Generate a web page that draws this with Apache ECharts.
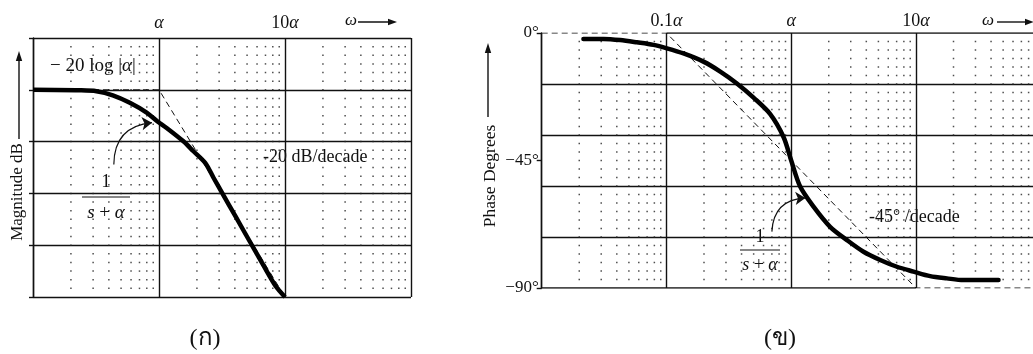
<!DOCTYPE html>
<html>
<head>
<meta charset="utf-8">
<script src="https://cdn.jsdelivr.net/npm/echarts@6/dist/echarts.min.js"></script>
<style>
  html, body { margin: 0; padding: 0; background: #fff; }
  #chart { width: 1033px; height: 354px; }
</style>
</head>
<body>
<div id="chart"></div>
<script>
// Magnitude of 1/(s+α): frequency in multiples of α, gain in dB relative to −20log|α|
const magFreq = [0.1, 0.235, 0.319, 0.43, 0.587, 0.798, 0.98, 1.15, 1.562, 1.877, 2.326, 2.708, 3.16, 4.03, 5.31, 6.78, 8.4, 10];
const magGain = [0, -0.05, -0.14, -0.53, -1.25, -2.2, -3.08, -3.68, -4.97, -5.93, -7.05, -8.49, -9.93, -12.18, -14.74, -16.99, -18.91, -20];
// Straight-line magnitude approximation (−20 dB/decade above α)
const magAsymFreq = [0.1, 1, 10];
const magAsymGain = [0, 0, -20];

// Phase of 1/(s+α) in degrees
const phaseFreq = [0.0216, 0.0313, 0.0426, 0.058, 0.0787, 0.1008, 0.137, 0.198, 0.27, 0.367, 0.499, 0.679, 0.868, 1.0, 1.18, 1.51, 2.05, 2.8, 3.8, 5.17, 7.04, 9.56, 13.0, 17.7, 24.0, 32.7, 45.9];
const phaseDeg = [-2.1, -2.1, -2.5, -3.3, -4.2, -5.4, -7.2, -10.1, -13.6, -17.8, -22.8, -28.6, -36.7, -45, -54.2, -61.3, -68.4, -73.1, -77.2, -80.1, -82.5, -84.2, -85.8, -86.6, -87.2, -87.2, -87.2];
// Straight-line phase approximation (−45°/decade from 0.1α to 10α)
const phaseAsymFreq = [0.01, 0.1, 10, 100];
const phaseAsymDeg = [0, 0, -90, -90];

// Axis ranges and ticks
const magFreqRange = [0.1, 100];
const magGainRange = [-20, 5];
const magGainStep = 5;
const magGainMinorSteps = 6;
const phaseFreqRange = [0.01, 100];
const phaseDegRange = [-90, 0];
const phaseDegStep = 18;
const phaseDegMinor = 3;
const phaseLabelStep = 45;
const minorMultiples = [2, 3, 4, 5, 6, 7, 8, 9];
const magTopLabels = { '0': '{a|α}', '1': '{n|10}{a|α}' };
const phaseTopLabels = { '-1': '{n|0.1}{a|α}', '0': '{a|α}', '1': '{n|10}{a|α}' };
const phaseSideLabels = { '0': '0°', '-45': '−45°', '-90': '−90°' };

// Annotation arrows (start → end, in data units)
const magArrow = [[0.438, -7.21], [0.88, -3.17]];
const phaseArrow = [[0.70, -70.1], [1.30, -58.2]];

const pair = (xs, ys) => xs.map((x, i) => [x, ys[i]]);

// dotted background grid: a dot at each log minor column × linear minor row
function dotGrid(xRange, yMin, yMax, yStep) {
  const pts = [];
  for (let d = xRange[0]; d < xRange[1] * 0.999; d *= 10) {
    for (const m of minorMultiples) {
      const x = +(d * m).toPrecision(6);
      for (let y = yMin + yStep; y < yMax - 1e-6; y += yStep) pts.push([x, +y.toFixed(4)]);
    }
  }
  return pts;
}

const SERIF = '"Liberation Serif", "Times New Roman", serif';
const INK = '#111';
const gridLine = { color: INK, width: 1.4 };
const richTop = {
  n: { fontFamily: SERIF, fontSize: 18, color: INK },
  a: { fontFamily: SERIF, fontSize: 18, fontStyle: 'italic', color: INK }
};
const decadeKey = v => String(Math.round(Math.log10(v)));

const chart = echarts.init(document.getElementById('chart'), null, { renderer: 'canvas' });

const txt = (x, y, text, opts, extra) => Object.assign({
  type: 'text', x: x, y: y, silent: true,
  style: Object.assign({
    text: text, fontFamily: SERIF, fontSize: 18, fill: INK,
    align: 'left', verticalAlign: 'middle'
  }, opts || {})
}, extra || {});

const italicRich = size => ({ a: { fontFamily: SERIF, fontSize: size, fontStyle: 'italic', fill: INK } });

const fraction = (cx, yNum, yBar, yDen, half, size) => ({
  type: 'group', silent: true,
  children: [
    txt(cx, yNum, '1', { align: 'center', fontSize: size }),
    { type: 'line', shape: { x1: cx - half, y1: yBar, x2: cx + half, y2: yBar }, style: { stroke: INK, lineWidth: 1.1 } },
    txt(cx, yDen, '{a|s} + {a|α}', { align: 'center', fontSize: size, rich: italicRich(size) })
  ]
});

const hArrow = (x1, x2, y) => ({
  type: 'group', silent: true,
  children: [
    { type: 'line', shape: { x1: x1, y1: y, x2: x2 - 6, y2: y }, style: { stroke: INK, lineWidth: 1.4 } },
    { type: 'polygon', shape: { points: [[x2, y], [x2 - 9, y - 3.2], [x2 - 9, y + 3.2]] }, style: { fill: INK } }
  ]
});
const vArrow = (x, y1, y2) => ({
  type: 'group', silent: true,
  children: [
    { type: 'line', shape: { x1: x, y1: y1, x2: x, y2: y2 + 6 }, style: { stroke: INK, lineWidth: 1.4 } },
    { type: 'polygon', shape: { points: [[x, y2], [x - 3.2, y2 + 10], [x + 3.2, y2 + 10]] }, style: { fill: INK } }
  ]
});

// curved pointer from the transfer-function label to the curve
const pointer = (xi, yi, a) => ({
  type: 'lines', coordinateSystem: 'cartesian2d', xAxisIndex: xi, yAxisIndex: yi,
  silent: true, z: 5,
  symbol: ['none', 'arrow'], symbolSize: [7, 10],
  lineStyle: { color: INK, width: 1.2, opacity: 1, curveness: 0.45 },
  data: [{ coords: a }]
});

chart.setOption({
  animation: false,
  backgroundColor: '#fff',
  grid: [
    { left: 33, top: 38, width: 378, height: 259, outerBoundsMode: 'none', containLabel: false },
    { left: 541.7, top: 33, width: 499, height: 255, outerBoundsMode: 'none', containLabel: false }
  ],
  xAxis: [
    {
      type: 'log', gridIndex: 0, logBase: 10, position: 'top',
      min: magFreqRange[0], max: magFreqRange[1],
      axisLine: { show: false }, axisTick: { show: false },
      axisLabel: { margin: 6, formatter: v => magTopLabels[decadeKey(v)] || '', rich: richTop },
      splitLine: { show: true, lineStyle: gridLine }
    },
    {
      type: 'log', gridIndex: 1, logBase: 10, position: 'top',
      min: phaseFreqRange[0], max: phaseFreqRange[1],
      axisLine: { show: false }, axisTick: { show: false },
      axisLabel: { margin: 3, formatter: v => phaseTopLabels[decadeKey(v)] || '', rich: richTop },
      splitLine: { show: true, lineStyle: gridLine }
    }
  ],
  yAxis: [
    {
      type: 'value', gridIndex: 0, position: 'left',
      min: magGainRange[0], max: magGainRange[1], interval: magGainStep,
      axisLine: { show: true, lineStyle: gridLine },
      axisTick: { show: true, length: 4, lineStyle: gridLine },
      axisLabel: { show: false },
      splitLine: { show: true, lineStyle: gridLine }
    },
    {
      type: 'value', gridIndex: 1, position: 'left',
      min: phaseDegRange[0], max: phaseDegRange[1], interval: phaseDegStep,
      axisLine: { show: true, lineStyle: gridLine },
      axisTick: { show: false },
      axisLabel: { show: false },
      splitLine: { show: true, showMinLine: false, showMaxLine: false, lineStyle: gridLine }
    },
    {
      type: 'value', gridIndex: 1, position: 'left', offset: 0,
      min: phaseDegRange[0], max: phaseDegRange[1], interval: phaseLabelStep,
      axisLine: { show: false },
      axisTick: { show: true, length: 5, lineStyle: gridLine },
      axisLabel: {
        margin: 3, fontFamily: SERIF, fontSize: 17, color: INK,
        formatter: v => phaseSideLabels[String(Math.round(v))] || ''
      },
      splitLine: { show: false }
    }
  ],
  series: [
    // --- magnitude panel ---
    {
      type: 'scatter', xAxisIndex: 0, yAxisIndex: 0, silent: true,
      symbol: 'rect', symbolSize: 1.5, itemStyle: { color: '#222' },
      data: dotGrid(magFreqRange, magGainRange[0], magGainRange[1], magGainStep / magGainMinorSteps)
    },
    {
      type: 'line', xAxisIndex: 0, yAxisIndex: 0, silent: true, symbol: 'none',
      lineStyle: { color: INK, width: 1, type: [6, 4] },
      data: pair(magAsymFreq, magAsymGain)
    },
    {
      type: 'line', xAxisIndex: 0, yAxisIndex: 0, silent: true, symbol: 'none', smooth: 0.3,
      lineStyle: { color: '#000', width: 4.5, cap: 'butt', join: 'round' },
      data: pair(magFreq, magGain)
    },
    pointer(0, 0, magArrow),
    // --- phase panel ---
    {
      type: 'scatter', xAxisIndex: 1, yAxisIndex: 1, silent: true,
      symbol: 'rect', symbolSize: 1.5, itemStyle: { color: '#222' },
      data: dotGrid(phaseFreqRange, phaseDegRange[0], phaseDegRange[1], phaseDegMinor)
    },
    {
      // solid frame edges: top from 0.1α onward, bottom up to 10α
      type: 'line', xAxisIndex: 1, yAxisIndex: 1, silent: true, symbol: 'none', connectNulls: false,
      lineStyle: { color: INK, width: 1.4 },
      data: [[0.1, 0], [phaseFreqRange[1], 0], '-', [phaseFreqRange[0], -90], [10, -90]]
    },
    {
      type: 'line', xAxisIndex: 1, yAxisIndex: 1, silent: true, symbol: 'none',
      lineStyle: { color: INK, width: 1, type: [6, 4] },
      data: pair(phaseAsymFreq, phaseAsymDeg)
    },
    {
      type: 'line', xAxisIndex: 1, yAxisIndex: 1, silent: true, symbol: 'none', smooth: 0.3,
      lineStyle: { color: '#000', width: 4.5, cap: 'round', join: 'round' },
      data: pair(phaseFreq, phaseDeg)
    },
    pointer(1, 1, phaseArrow)
  ],
  graphic: [
    // magnitude panel annotations
    txt(18, 192, 'Magnitude dB', { align: 'center', fontSize: 17 }, { rotation: Math.PI / 2 }),
    vArrow(19, 139, 51),
    txt(351, 21, 'ω', { align: 'center', fontStyle: 'italic', fontSize: 17 }),
    hArrow(358, 397, 22),
    txt(50, 66, '− 20 log |{a|α}|', { fontSize: 19, rich: italicRich(19) }),
    txt(263, 157, '-20 dB/decade'),
    fraction(106, 182, 197, 213, 24, 19),
    txt(205, 339, '(ก)', { align: 'center', fontSize: 24 }),
    // phase panel annotations
    txt(490, 176, 'Phase Degrees', { align: 'center', fontSize: 17.5 }, { rotation: Math.PI / 2 }),
    vArrow(488, 117, 43),
    txt(988, 21, 'ω', { align: 'center', fontStyle: 'italic', fontSize: 17 }),
    hArrow(997, 1034, 22),
    txt(869, 217, '-45° /decade'),
    fraction(760, 237, 250, 265, 20, 18),
    txt(780, 339, '(ข)', { align: 'center', fontSize: 24 })
  ]
});
</script>
</body>
</html>
